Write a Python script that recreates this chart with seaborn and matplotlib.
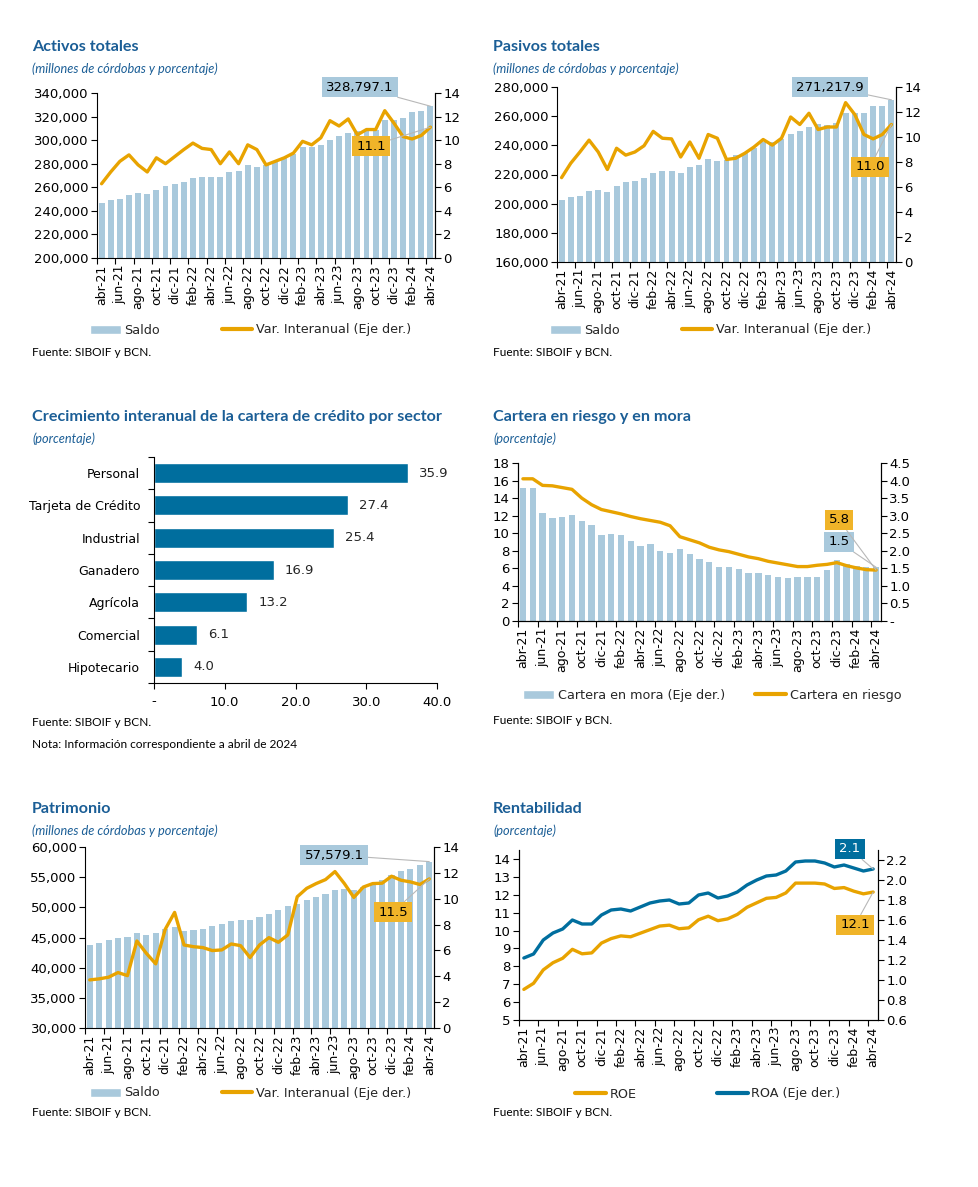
import matplotlib

matplotlib.use("Agg")
import matplotlib.pyplot as plt
import matplotlib.ticker as mticker
from matplotlib.lines import Line2D
from matplotlib.patches import Patch
import numpy as np
import pandas as pd
import seaborn as sns

# --- data ------------------------------------------------------------------
meses = [
    "abr-21", "may-21", "jun-21", "jul-21", "ago-21", "sep-21", "oct-21",
    "nov-21", "dic-21", "ene-22", "feb-22", "mar-22", "abr-22", "may-22",
    "jun-22", "jul-22", "ago-22", "sep-22", "oct-22", "nov-22", "dic-22",
    "ene-23", "feb-23", "mar-23", "abr-23", "may-23", "jun-23", "jul-23",
    "ago-23", "sep-23", "oct-23", "nov-23", "dic-23", "ene-24", "feb-24",
    "mar-24", "abr-24",
]

activos_saldo = [
    246300, 249100, 250000, 253100, 255100, 254200, 257900, 261000, 263000,
    264800, 267900, 268700, 268700, 268700, 272700, 273800, 278700, 277500,
    279000, 281800, 284600, 288300, 294600, 294600, 296000, 300300, 303100,
    305900, 307400, 307400, 308800, 316700, 316900, 318700, 323500, 324700,
    328797.1,
]
activos_var = [
    6.3, 7.3, 8.2, 8.75, 7.9, 7.3, 8.5, 8.0, 8.6, 9.2, 9.75, 9.3, 9.2, 8.0,
    9.0, 8.0, 9.6, 9.2, 7.9, 8.2, 8.5, 8.9, 9.9, 9.6, 10.2, 11.65, 11.2, 11.8,
    10.45, 10.9, 10.9, 12.5, 11.45, 10.3, 10.1, 10.4, 11.1,
]

pasivos_saldo = [
    202400, 204700, 205600, 208600, 209500, 207900, 212100, 214800, 215700,
    217300, 221200, 222200, 222200, 221200, 225400, 226300, 230900, 229300,
    230000, 233200, 235000, 238200, 242600, 242600, 244200, 247600, 249900,
    252900, 254500, 254000, 255200, 262500, 262500, 262500, 267100, 267100,
    271217.9,
]
pasivos_var = [
    6.75, 7.9, 8.8, 9.75, 8.8, 7.4, 9.1, 8.55, 8.8, 9.3, 10.45, 9.9, 9.85,
    8.4, 9.6, 8.3, 10.2, 9.9, 8.2, 8.3, 8.7, 9.2, 9.8, 9.35, 9.9, 11.6, 11.0,
    11.9, 10.6, 10.8, 10.8, 12.75, 11.8, 10.2, 9.85, 10.2, 11.0,
]

sectores = ["Personal", "Tarjeta de Crédito", "Industrial", "Ganadero",
            "Agrícola", "Comercial", "Hipotecario"]
sector_crec = [35.9, 27.4, 25.4, 16.9, 13.2, 6.1, 4.0]

cartera_mora = [
    3.8, 3.8, 3.08, 2.93, 2.96, 3.02, 2.86, 2.74, 2.44, 2.47, 2.44, 2.27,
    2.15, 2.18, 2.0, 1.95, 2.05, 1.91, 1.78, 1.68, 1.55, 1.55, 1.48, 1.36,
    1.36, 1.32, 1.26, 1.23, 1.26, 1.26, 1.26, 1.46, 1.74, 1.62, 1.58, 1.55,
    1.53,
]
cartera_riesgo = [
    16.2, 16.2, 15.45, 15.4, 15.2, 15.0, 14.0, 13.25, 12.7, 12.45, 12.2, 11.9,
    11.65, 11.45, 11.25, 10.85, 9.6, 9.25, 8.9, 8.4, 8.1, 7.9, 7.6, 7.3, 7.1,
    6.8, 6.6, 6.4, 6.2, 6.2, 6.35, 6.45, 6.65, 6.3, 6.05, 5.85, 5.8,
]

patrimonio_saldo = [
    43760, 44150, 44530, 44860, 45080, 45690, 45470, 45690, 46400, 46790,
    46070, 46240, 46400, 46850, 47230, 47730, 47950, 47950, 48390, 48880,
    49490, 50200, 50530, 51190, 51740, 52290, 52850, 53010, 52900, 53400,
    53780, 54500, 55300, 56000, 56300, 57000, 57579.1,
]
patrimonio_var = [
    3.72, 3.8, 3.93, 4.29, 4.05, 6.73, 5.78, 4.96, 7.63, 8.94, 6.42, 6.29,
    6.22, 5.99, 6.04, 6.5, 6.37, 5.45, 6.42, 6.99, 6.63, 7.2, 10.15, 10.8,
    11.17, 11.48, 12.1, 11.17, 10.1, 10.9, 11.17, 11.2, 11.74, 11.43, 11.3,
    11.1, 11.53,
]

roe = [
    6.71, 7.05, 7.8, 8.2, 8.45, 8.95, 8.7, 8.75, 9.3, 9.55, 9.7, 9.65, 9.85,
    10.05, 10.25, 10.3, 10.1, 10.15, 10.6, 10.8, 10.55, 10.65, 10.9, 11.3,
    11.55, 11.8, 11.85, 12.1, 12.65, 12.65, 12.65, 12.6, 12.35, 12.4, 12.2,
    12.05, 12.15,
]
roa = [
    1.22, 1.26, 1.4, 1.47, 1.51, 1.6, 1.56, 1.56, 1.65, 1.7, 1.71, 1.69, 1.73,
    1.77, 1.79, 1.8, 1.76, 1.77, 1.85, 1.87, 1.82, 1.84, 1.88, 1.95, 2.0,
    2.04, 2.05, 2.09, 2.18, 2.19, 2.19, 2.17, 2.13, 2.15, 2.12, 2.09, 2.11,
]

# --- style -----------------------------------------------------------------
W, H = 979, 1187
LIGHT = "#a9c9dc"
GOLD = "#e8a300"
GOLD_BOX = "#f0b429"
DARK = "#006e9e"
TITLE = "#1b5e96"

sns.set_theme(style="white")
plt.rcParams["font.family"] = ["DejaVu Sans"]
plt.rcParams["axes.linewidth"] = 0.8
plt.rcParams["axes.edgecolor"] = "black"
plt.rcParams["xtick.color"] = "black"
plt.rcParams["ytick.color"] = "black"

fig = plt.figure(figsize=(W / 100, H / 100), dpi=100)

df = pd.DataFrame({
    "idx": np.arange(len(meses)), "mes": meses,
    "activos": activos_saldo, "activos_var": activos_var,
    "pasivos": pasivos_saldo, "pasivos_var": pasivos_var,
    "mora": cartera_mora, "riesgo": cartera_riesgo,
    "patrimonio": patrimonio_saldo, "patrimonio_var": patrimonio_var,
    "roe": roe, "roa": roa,
})
LAST = len(meses) - 1


def fxy(x, y):
    return (x / W, 1 - y / H)


def axes_px(l, t, r, b):
    return fig.add_axes([l / W, 1 - b / H, (r - l) / W, (b - t) / H])


def heading(x, y, title, sub):
    fig.text(*fxy(x, y + 1), title, family="Lato", weight="bold", size=11.6,
             color=TITLE, va="center")
    fig.text(*fxy(x, y + 23), sub, family="Lato", style="italic", size=9.2,
             color=TITLE, va="center")


def note(x, y, s):
    fig.text(*fxy(x, y), s, family="Lato", size=8.6, color="black",
             va="center")


def legend(handles, labels, x, y, spacing):
    fig.legend(handles, labels, loc="center left", bbox_to_anchor=fxy(x, y),
               ncol=2, frameon=False, fontsize=9.2, handlelength=2.4,
               handletextpad=0.3, columnspacing=spacing, borderaxespad=0,
               borderpad=0)


def month_axis(ax):
    n = len(meses)
    ax.set_xlim(-0.5, n - 0.5)
    ax.set_xticks(range(0, n, 2))
    ax.set_xticklabels(meses[::2], rotation=90, fontsize=9)
    ax.set_xticks(np.arange(-0.5, n, 2), minor=True)
    ax.tick_params(axis="x", which="major", length=0, pad=5)
    ax.tick_params(axis="x", which="minor", length=4, width=0.8,
                   direction="out", bottom=True)
    ax.set_xlabel("")


def frame(ax, right=True):
    for side in ("left", "bottom"):
        ax.spines[side].set_visible(True)
    ax.spines["right"].set_visible(right)
    ax.spines["top"].set_visible(False)
    ax.tick_params(axis="y", length=4, width=0.8, direction="out",
                   labelsize=9.5, pad=2)


def callout(ax, text, xy, pos, fc, color="black"):
    ax.annotate(text, xy=xy, xycoords="data", xytext=fxy(*pos),
                textcoords="figure fraction", ha="center", va="center",
                fontsize=9.5, color=color, zorder=10,
                bbox=dict(boxstyle="square,pad=0.3", fc=fc, ec="none"),
                arrowprops=dict(arrowstyle="-", color="0.72", lw=0.8,
                                shrinkA=0, shrinkB=0))


bar_kw = dict(native_scale=True, width=0.65, errorbar=None, color=LIGHT,
              saturation=1, edgecolor="none")
line_kw = dict(color=GOLD, linewidth=2.4, legend=False)
comma = mticker.FuncFormatter(lambda v, p: f"{v:,.0f}")


def saldo_panel(box, col_bar, col_line, ylim, yticks, label_bar, label_line):
    ax = axes_px(*box)
    sns.barplot(data=df, x="idx", y=col_bar, ax=ax, **bar_kw)
    ax.set_ylim(*ylim)
    ax.set_yticks(yticks)
    ax.yaxis.set_major_formatter(comma)
    ax.set_ylabel("")
    month_axis(ax)
    frame(ax)
    axr = ax.twinx()
    sns.lineplot(data=df, x="idx", y=col_line, ax=axr, **line_kw)
    axr.set_ylim(0, 14)
    axr.set_yticks(range(0, 15, 2))
    axr.set_ylabel("")
    frame(axr)
    for s in ("left", "bottom"):
        axr.spines[s].set_visible(False)
    month_axis(axr)
    axr.tick_params(axis="x", which="both", bottom=False, labelbottom=False)
    callout(ax, label_bar[0], (LAST, df[col_bar].iloc[-1]), label_bar[1], LIGHT)
    callout(axr, label_line[0], (LAST, df[col_line].iloc[-1]), label_line[1],
            GOLD_BOX)
    return ax


# --- panel 1: Activos totales ----------------------------------------------
heading(32, 46, "Activos totales", "(millones de córdobas y porcentaje)")
saldo_panel((97, 93, 435, 258), "activos", "activos_var", (200000, 340000),
            range(200000, 340001, 20000),
            ("328,797.1", (360, 87)), ("11.1", (371, 146)))
legend([Patch(facecolor=LIGHT), Line2D([], [], color=GOLD, lw=3)],
       ["Saldo", "Var. Interanual (Eje der.)"], 90, 330, 4.8)
note(32, 352, "Fuente: SIBOIF y BCN.")

# --- panel 2: Pasivos totales ----------------------------------------------
heading(493, 46, "Pasivos totales", "(millones de córdobas y porcentaje)")
saldo_panel((557, 87, 896, 262), "pasivos", "pasivos_var", (160000, 280000),
            range(160000, 280001, 20000),
            ("271,217.9", (830, 87)), ("11.0", (870, 167)))
legend([Patch(facecolor=LIGHT), Line2D([], [], color=GOLD, lw=3)],
       ["Saldo", "Var. Interanual (Eje der.)"], 550, 330, 4.8)
note(493, 352, "Fuente: SIBOIF y BCN.")

# --- panel 3: Crecimiento por sector ---------------------------------------
heading(32, 416, "Crecimiento interanual de la cartera de crédito por sector",
        "(porcentaje)")
ax3 = axes_px(154, 457, 437, 683)
sns.barplot(x=sector_crec, y=sectores, orient="h", color=DARK, saturation=1,
            width=0.62, errorbar=None, ax=ax3)
ax3.set_xlim(0, 40)
ax3.set_ylim(6.5, -0.5)
ax3.set_xticks(range(0, 41, 10))
ax3.set_xticklabels(["-", "10.0", "20.0", "30.0", "40.0"], fontsize=9.5)
ax3.set_yticks(np.arange(-0.5, 7, 1), minor=True)
ax3.tick_params(axis="y", which="major", length=0, labelsize=9, pad=10)
ax3.tick_params(axis="y", which="minor", length=4, width=0.8, left=True,
                direction="out")
ax3.tick_params(axis="x", length=4, width=0.8, bottom=True, direction="out",
                pad=5)
for s in ("top", "right"):
    ax3.spines[s].set_visible(False)
ax3.bar_label(ax3.containers[0], fmt="%.1f", padding=8, fontsize=9.5)
note(32, 722, "Fuente: SIBOIF y BCN.")
note(32, 745, "Nota: Información correspondiente a abril de 2024")

# --- panel 4: Cartera en riesgo y en mora ----------------------------------
heading(493, 416, "Cartera en riesgo y en mora", "(porcentaje)")
ax4 = axes_px(518, 463, 881, 621)
sns.barplot(data=df, x="idx", y="mora", ax=ax4, **bar_kw)
ax4.set_ylim(0, 4.5)
ax4.set_yticks(np.arange(0, 4.51, 0.5))
ax4.yaxis.set_major_formatter(
    mticker.FuncFormatter(lambda v, p: "-" if abs(v) < 1e-9 else f"{v:.1f}"))
ax4.set_ylabel("")
month_axis(ax4)
frame(ax4)
ax4b = ax4.twinx()
sns.lineplot(data=df, x="idx", y="riesgo", ax=ax4b, **line_kw)
ax4b.set_ylim(0, 18)
ax4b.set_yticks(range(0, 19, 2))
ax4b.set_ylabel("")
frame(ax4b)
month_axis(ax4b)
ax4b.tick_params(axis="x", which="both", bottom=False, labelbottom=False)
# bars (right scale) stay underneath the line, so swap the tick sides
ax4.yaxis.tick_right()
ax4b.yaxis.tick_left()
callout(ax4b, "5.8", (LAST, cartera_riesgo[-1]), (839, 520), GOLD_BOX)
callout(ax4, "1.5", (LAST, cartera_mora[-1]), (839, 542), LIGHT)
legend([Patch(facecolor=LIGHT), Line2D([], [], color=GOLD, lw=3)],
       ["Cartera en mora (Eje der.)", "Cartera en riesgo"], 523, 695, 2.4)
note(493, 720, "Fuente: SIBOIF y BCN.")

# --- panel 5: Patrimonio ---------------------------------------------------
heading(32, 808, "Patrimonio", "(millones de córdobas y porcentaje)")
saldo_panel((85, 847, 434, 1028), "patrimonio", "patrimonio_var",
            (30000, 60000), range(30000, 60001, 5000),
            ("57,579.1", (334, 855)), ("11.5", (393, 912)))
legend([Patch(facecolor=LIGHT), Line2D([], [], color=GOLD, lw=3)],
       ["Saldo", "Var. Interanual (Eje der.)"], 90, 1093, 4.8)
note(32, 1113, "Fuente: SIBOIF y BCN.")

# --- panel 6: Rentabilidad -------------------------------------------------
heading(493, 808, "Rentabilidad", "(porcentaje)")
ax6 = axes_px(519, 850, 878, 1020)
sns.lineplot(data=df, x="idx", y="roe", ax=ax6, **line_kw)
ax6.set_ylim(5, 14.5)
ax6.set_yticks(range(5, 15))
ax6.set_ylabel("")
month_axis(ax6)
frame(ax6)
ax6r = ax6.twinx()
sns.lineplot(data=df, x="idx", y="roa", ax=ax6r, color=DARK, linewidth=2.4,
             legend=False)
ax6r.set_ylim(0.6, 2.3)
ax6r.set_yticks(np.arange(0.6, 2.21, 0.2))
ax6r.yaxis.set_major_formatter(mticker.FormatStrFormatter("%.1f"))
ax6r.set_ylabel("")
frame(ax6r)
month_axis(ax6r)
ax6r.tick_params(axis="x", which="both", bottom=False, labelbottom=False)
callout(ax6r, "2.1", (LAST, roa[-1]), (850, 849), DARK, color="white")
callout(ax6, "12.1", (LAST, roe[-1]), (855, 925), GOLD_BOX)
legend([Line2D([], [], color=GOLD, lw=3), Line2D([], [], color=DARK, lw=3)],
       ["ROE", "ROA (Eje der.)"], 575, 1094, 6.3)
note(493, 1113, "Fuente: SIBOIF y BCN.")

fig.savefig("out.png", dpi=100)
plt.close(fig)
